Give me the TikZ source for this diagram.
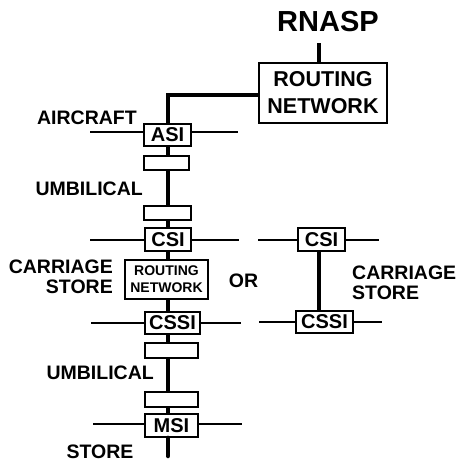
\documentclass[tikz,border=0pt]{standalone}
\usepackage{fontspec}
\setmainfont{Liberation Sans}
\begin{document}
\begin{tikzpicture}[x=1pt,y=-1pt,
  box/.style={draw,line width=1.8pt,fill=white,inner sep=0pt,font=\bfseries\fontsize{20}{22}\selectfont},
  lbl/.style={inner sep=0pt,font=\bfseries\fontsize{19.5}{22}\selectfont},
  spine/.style={line width=4.5pt},
  thin/.style={line width=1.8pt}]
\useasboundingbox (0,0) rectangle (460,463);
% nodes
\node[lbl,font=\bfseries\fontsize{29}{32}\selectfont] (rnasp) at (328,22) {RNASP};
\node[box,minimum width=128pt,minimum height=60pt,align=center,font=\bfseries\fontsize{21.5}{27}\selectfont] (rnbig) at (323,93) {ROUTING\\NETWORK};
\node[box,minimum width=47pt,minimum height=22pt] (asi) at (167.5,135) {ASI};
\node[box,minimum width=45pt,minimum height=14pt] (r1) at (166.5,163) {};
\node[box,minimum width=47pt,minimum height=14pt] (r2) at (167.5,213) {};
\node[box,minimum width=46pt,minimum height=23pt] (csi) at (168,239.5) {CSI};
\node[box,minimum width=83pt,minimum height=39pt,align=center,font=\bfseries\fontsize{14}{17}\selectfont] (rnsmall) at (166.5,279.5) {ROUTING\\NETWORK};
\node[box,minimum width=55pt,minimum height=22pt] (cssi) at (172.5,323) {CSSI};
\node[box,minimum width=53pt,minimum height=15pt] (r3) at (171.5,350.5) {};
\node[box,minimum width=53pt,minimum height=15pt] (r4) at (171.5,399.5) {};
\node[box,minimum width=53pt,minimum height=23pt] (msi) at (171.5,425.5) {MSI};
\node[box,minimum width=47pt,minimum height=23pt] (csiR) at (321.5,239.5) {CSI};
\node[box,minimum width=57pt,minimum height=22pt] (cssiR) at (324.5,322) {CSSI};
% labels
\node[lbl,anchor=east] (aircraft) at (137,118) {AIRCRAFT};
\node[lbl,anchor=east] (umb1) at (143,189) {UMBILICAL};
\node[lbl,anchor=east] (carL) at (113,267) {CARRIAGE};
\node[lbl,anchor=east] (stoL) at (113,287) {STORE};
\node[lbl] (or) at (243.5,281) {OR};
\node[lbl,anchor=west] (carR) at (352,273) {CARRIAGE};
\node[lbl,anchor=west] (stoR) at (352,293) {STORE};
\node[lbl,anchor=east] (umb2) at (154,373) {UMBILICAL};
\node[lbl] (stoB) at (100,452) {STORE};
% coordinates
\coordinate (sp) at (168,0);
\coordinate (spR) at (319,0);
\coordinate (rnaspbot) at (319,43);
\coordinate (bottom) at (168,456);
% connectors (behind boxes)
\begin{scope}[on background layer/.try]
\end{scope}
\draw[spine] (rnaspbot) -- (rnbig.north -| spR);
\draw[spine,line join=miter] (rnbig.west |- 0,95) -| (asi.north -| sp);
\draw[spine] (asi.south -| sp) -- (r1.north -| sp);
\draw[spine] (r1.south -| sp) -- (r2.north -| sp);
\draw[spine] (r2.south -| sp) -- (csi.north -| sp);
\draw[spine] (csi.south -| sp) -- (rnsmall.north -| sp);
\draw[spine] (rnsmall.south -| sp) -- (cssi.north -| sp);
\draw[spine] (cssi.south -| sp) -- (r3.north -| sp);
\draw[spine] (r3.south -| sp) -- (r4.north -| sp);
\draw[spine] (r4.south -| sp) -- (msi.north -| sp);
\draw[spine,line cap=round] (msi.south -| sp) -- (bottom);
\draw[spine] (csiR.south -| spR) -- (cssiR.north -| spR);
% side lines
\coordinate (a1) at (90,132); \coordinate (a2) at (238,132);
\draw[thin] (a1) -- (asi.west |- a1); \draw[thin] (asi.east |- a2) -- (a2);
\coordinate (c1) at (90,240); \coordinate (c2) at (239,240);
\draw[thin] (c1) -- (csi.west |- c1); \draw[thin] (csi.east |- c2) -- (c2);
\coordinate (s1) at (91,323); \coordinate (s2) at (241,323);
\draw[thin] (s1) -- (cssi.west |- s1); \draw[thin] (cssi.east |- s2) -- (s2);
\coordinate (m1) at (93,424); \coordinate (m2) at (242,424);
\draw[thin] (m1) -- (msi.west |- m1); \draw[thin] (msi.east |- m2) -- (m2);
\coordinate (cr1) at (258,240); \coordinate (cr2) at (379,240);
\draw[thin] (cr1) -- (csiR.west |- cr1); \draw[thin] (csiR.east |- cr2) -- (cr2);
\coordinate (sr1) at (259,322); \coordinate (sr2) at (382,322);
\draw[thin] (sr1) -- (cssiR.west |- sr1); \draw[thin] (cssiR.east |- sr2) -- (sr2);
\end{tikzpicture}
\end{document}
